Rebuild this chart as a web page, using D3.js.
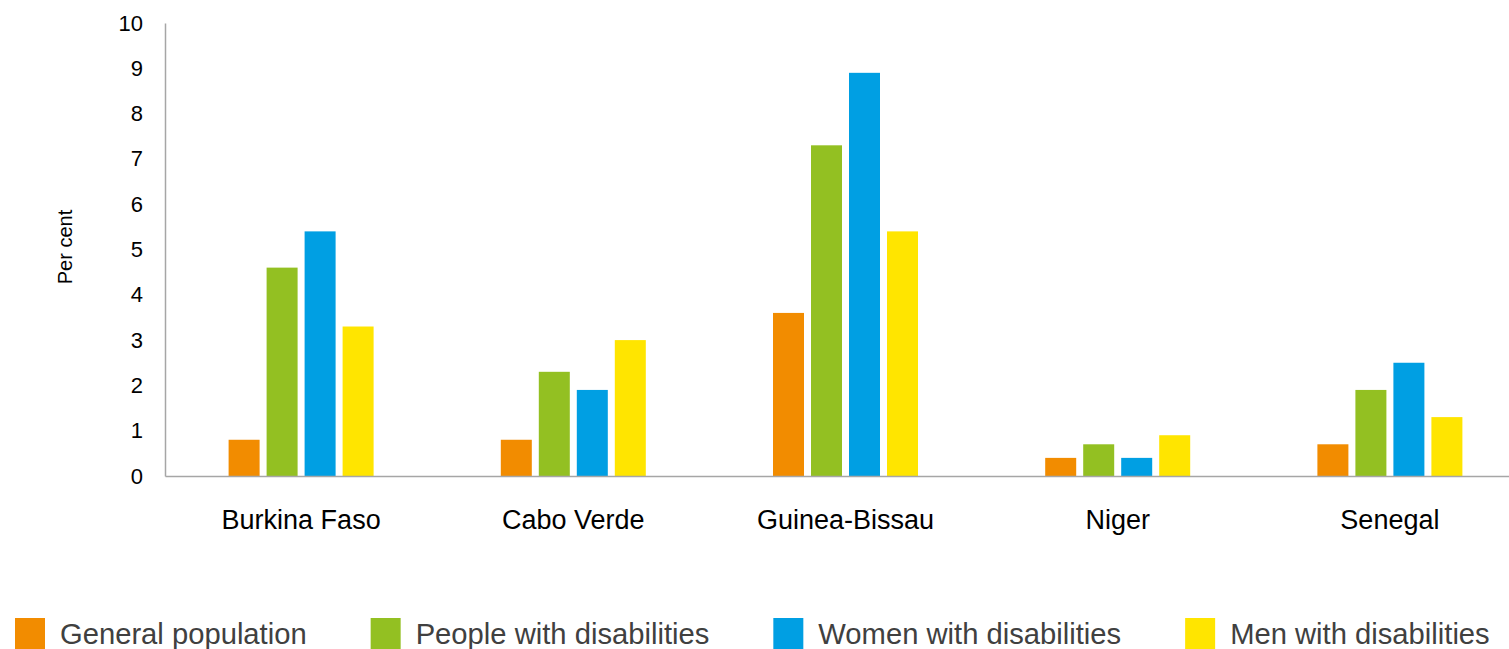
<!DOCTYPE html>
<html>
<head>
<meta charset="utf-8">
<script src="https://cdn.jsdelivr.net/npm/d3@7"></script>
<style>
  html, body { margin: 0; padding: 0; background: #fff; }
  svg { display: block; font-family: "Liberation Sans", Arial, sans-serif; }
</style>
</head>
<body>
<svg id="chart" width="1509" height="649"></svg>
<script>
// Share of each group, per country (per cent)
const countries = ["Burkina Faso", "Cabo Verde", "Guinea-Bissau", "Niger", "Senegal"];
const seriesNames = ["General population", "People with disabilities", "Women with disabilities", "Men with disabilities"];
const generalPopulation = [0.8, 0.8, 3.6, 0.4, 0.7];
const peopleWithDisabilities = [4.6, 2.3, 7.3, 0.7, 1.9];
const womenWithDisabilities = [5.4, 1.9, 8.9, 0.4, 2.5];
const menWithDisabilities = [3.3, 3.0, 5.4, 0.9, 1.3];
const yTicks = [0, 1, 2, 3, 4, 5, 6, 7, 8, 9, 10];
const colors = ["#F28C00", "#93C022", "#009FE3", "#FFE500"];

const seriesValues = [generalPopulation, peopleWithDisabilities, womenWithDisabilities, menWithDisabilities];

const svg = d3.select("#chart");
const plotLeft = 165, plotRight = 1526, plotTop = 23, plotBottom = 476;

const x0 = d3.scaleBand().domain(countries).range([plotLeft, plotRight]).padding(0);
const groupWidth = 145;
const x1 = d3.scaleBand().domain(seriesNames).range([0, groupWidth]).paddingInner(7 / 38).paddingOuter(0);
const y = d3.scaleLinear().domain([0, 10]).range([plotBottom, plotTop]);
const color = d3.scaleOrdinal().domain(seriesNames).range(colors);

// Bars
const groups = svg.append("g").selectAll("g")
  .data(countries)
  .join("g")
  .attr("transform", d => `translate(${x0(d) + (x0.bandwidth() - groupWidth) / 2},0)`);

groups.selectAll("rect")
  .data((c, i) => seriesNames.map((s, k) => ({ s, v: seriesValues[k][i] })))
  .join("rect")
  .attr("x", d => x1(d.s))
  .attr("width", x1.bandwidth())
  .attr("y", d => y(d.v))
  .attr("height", d => y(0) - y(d.v))
  .attr("fill", d => color(d.s));

// Y axis
const yAxis = svg.append("g")
  .attr("transform", `translate(${plotLeft},0)`)
  .call(d3.axisLeft(y).tickValues(yTicks).tickSize(0).tickPadding(22).tickFormat(d3.format("d")));
yAxis.select(".domain").attr("stroke", "#a6a6a6").attr("stroke-width", 1.5);
yAxis.selectAll("text").attr("font-size", 22).attr("fill", "#000")
  .attr("font-family", "'Liberation Sans', Arial, sans-serif");

// X axis
const xAxis = svg.append("g")
  .attr("transform", `translate(0,${plotBottom})`)
  .call(d3.axisBottom(x0).tickSize(0).tickPadding(0));
xAxis.select(".domain").attr("stroke", "#a6a6a6").attr("stroke-width", 1.5);
xAxis.selectAll("text")
  .attr("font-size", 27).attr("fill", "#000")
  .attr("font-family", "'Liberation Sans', Arial, sans-serif")
  .attr("dy", null)
  .attr("y", 53);

// Axis title
svg.append("text")
  .attr("transform", "translate(65,247) rotate(-90)")
  .attr("text-anchor", "middle")
  .attr("dominant-baseline", "central")
  .attr("font-size", 20)
  .attr("fill", "#000")
  .text("Per cent");

// Legend
const legend = svg.append("g");
let lx = 15;
seriesNames.forEach((s, i) => {
  const item = legend.append("g").attr("transform", `translate(${lx},0)`);
  item.append("rect").attr("x", 0).attr("y", 618).attr("width", 30).attr("height", 31).attr("fill", color(s));
  const t = item.append("text").attr("x", 45).attr("y", 644)
    .attr("font-size", 29.2).attr("fill", "#404040").text(s);
  lx += 45 + t.node().getComputedTextLength() + 64;
});
</script>
</body>
</html>
